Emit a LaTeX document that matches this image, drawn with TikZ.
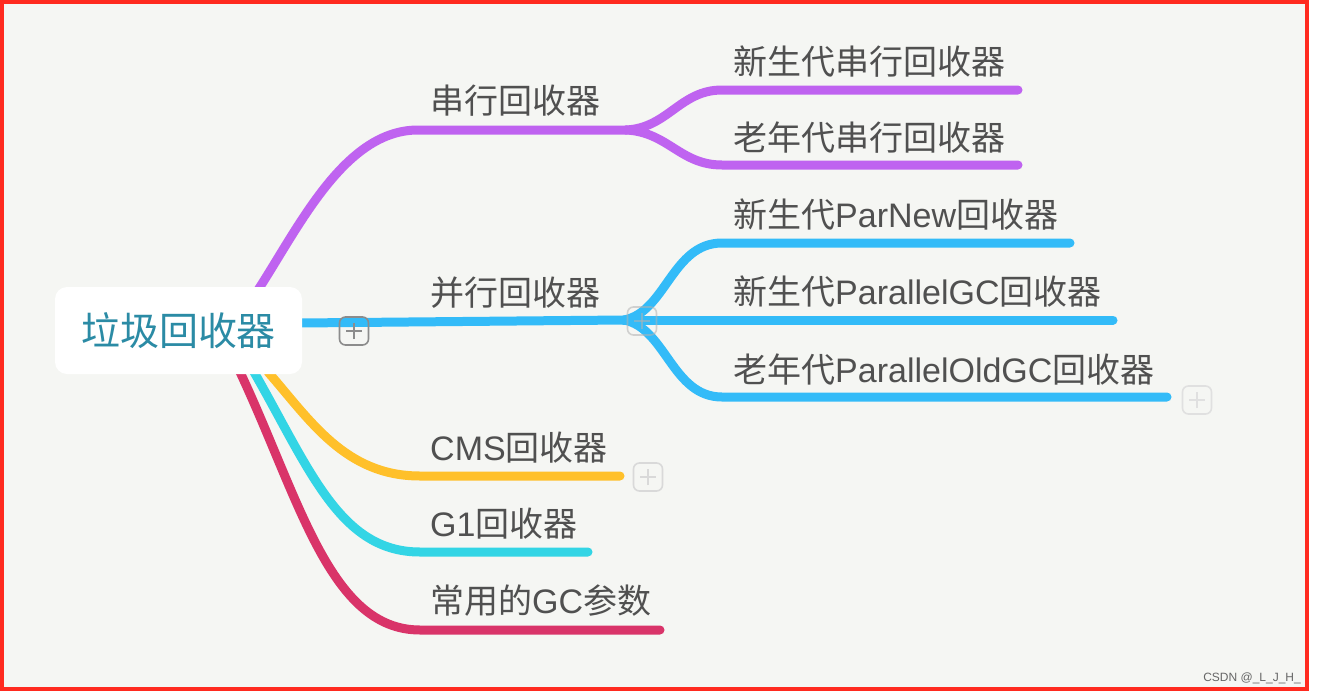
\documentclass[tikz,border=0pt]{standalone}
\usepackage{fontspec}
\setmainfont{Liberation Sans}
\newfontfamily\cjk{Noto Sans CJK SC}
\definecolor{bgc}{HTML}{F5F6F3}
\definecolor{frame}{HTML}{FF2A1F}
\definecolor{purp}{HTML}{BF63F0}
\definecolor{blu}{HTML}{33BBF8}
\definecolor{yel}{HTML}{FFC02A}
\definecolor{cya}{HTML}{33D5E5}
\definecolor{crim}{HTML}{D93469}
\definecolor{txt}{HTML}{505050}
\definecolor{roottxt}{HTML}{2B8BA5}
\begin{document}
\begin{tikzpicture}[x=1pt,y=-1pt,
  branch/.style={line width=9pt,line cap=round},
  lbl/.style={anchor=base west,inner sep=0pt,text=txt,font=\fontsize{34}{36}\selectfont},
  rootbox/.style={fill=white,rounded corners=12pt,minimum width=247pt,minimum height=87pt,inner sep=0pt,
     text=roottxt,font=\cjk\fontsize{39}{42}\selectfont},
  plusbox/.style={draw=#1,line width=1.6pt,rounded corners=6pt,minimum width=29pt,minimum height=28pt,inner sep=0pt,
     path picture={\draw[#1,line width=1.3pt] ([xshift=-8pt]path picture bounding box.center) -- ([xshift=8pt]path picture bounding box.center);
                   \draw[#1,line width=1.3pt] ([yshift=-8pt]path picture bounding box.center) -- ([yshift=8pt]path picture bounding box.center);}},
]
\useasboundingbox (0,0) rectangle (1318,694);
\fill[white] (0,0) rectangle (1318,694);
\fill[bgc] (2,2) rectangle (1307,689);

% coordinates
\coordinate (pStart) at (258,290);
\coordinate (pBend) at (418,130);
\coordinate (pSplit) at (626,130);
\coordinate (p1a) at (722,90);   \coordinate (p1b) at (1018,90);
\coordinate (p2a) at (722,165);  \coordinate (p2b) at (1018,165);
\coordinate (bStart) at (300,323);
\coordinate (bSplit) at (624,320);
\coordinate (b1a) at (722,243);  \coordinate (b1b) at (1070,243);
\coordinate (b2b) at (1113,320);
\coordinate (b3a) at (722,397);  \coordinate (b3b) at (1167,397);
\coordinate (yStart) at (268,372); \coordinate (yBend) at (420,476); \coordinate (yEnd) at (620,476);
\coordinate (cStart) at (254,372); \coordinate (cBend) at (420,552); \coordinate (cEnd) at (588,552);
\coordinate (rStart) at (240,372); \coordinate (rBend) at (420,630); \coordinate (rEnd) at (660,630);

% purple
\draw[branch,purp] (pStart) .. controls (300,225) and (345,130) .. (pBend) -- (pSplit);
\draw[branch,purp] (pSplit) .. controls (668,128) and (680,90) .. (p1a) -- (p1b);
\draw[branch,purp] (pSplit) .. controls (668,132) and (680,165) .. (p2a) -- (p2b);
% blue
\draw[branch,blu] (bStart) -- (bSplit);
\draw[branch,blu] (bSplit) .. controls (666,312) and (672,243) .. (b1a) -- (b1b);
\draw[branch,blu] (bSplit) -- (b2b);
\draw[branch,blu] (bSplit) .. controls (666,328) and (672,397) .. (b3a) -- (b3b);
% others
\draw[branch,crim] (rStart) .. controls (300,500) and (330,630) .. (rBend) -- (rEnd);
\draw[branch,cya] (cStart) .. controls (310,470) and (340,552) .. (cBend) -- (cEnd);
\draw[branch,yel] (yStart) .. controls (310,420) and (345,476) .. (yBend) -- (yEnd);

% root
\node[rootbox] (root) at (178.5,330.5) {垃圾回收器};

% labels
\node[lbl] (l1) at (430,113) {\cjk 串行回收器};
\node[lbl] (l2) at (430,305) {\cjk 并行回收器};
\node[lbl] (l3) at (430,460) {CMS{\cjk 回收器}};
\node[lbl] (l4) at (430,536) {G1{\cjk 回收器}};
\node[lbl] (l5) at (430,613) {{\cjk 常用的}GC{\cjk 参数}};
\node[lbl] (s1) at (733,74) {\cjk 新生代串行回收器};
\node[lbl] (s2) at (733,150) {\cjk 老年代串行回收器};
\node[lbl] (s3) at (733,227) {{\cjk 新生代}ParNew{\cjk 回收器}};
\node[lbl] (s4) at (733,304) {{\cjk 新生代}ParallelGC{\cjk 回收器}};
\node[lbl] (s5) at (733,382) {{\cjk 老年代}ParallelOldGC{\cjk 回收器}};

% plus icons
\node[plusbox={black!45}] (plusRoot) at (354,331) {};
\node[plusbox={black!30},opacity=0.55] (plusBlue) at (642,321) {};
\node[plusbox={black!12}] (plusOld) at (1197,400) {};
\node[plusbox={black!15}] (plusCms) at (648,477) {};

% frame
\draw[frame,line width=3.5pt] (2,2) rectangle (1307,689);

% watermark
\node[anchor=east,inner sep=0pt,text=black!60,font=\fontsize{12}{13}\selectfont] (wm) at (1301,678) {CSDN @\_L\_J\_H\_};
\end{tikzpicture}
\end{document}
